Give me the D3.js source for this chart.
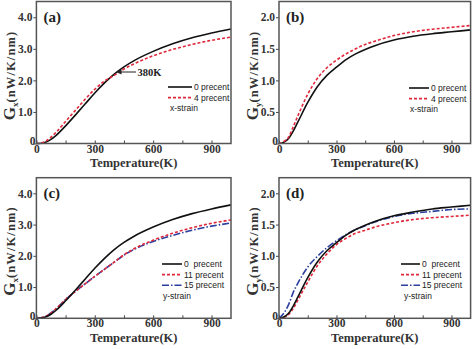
<!DOCTYPE html>
<html><head><meta charset="utf-8">
<script src="https://cdn.jsdelivr.net/npm/d3@7/dist/d3.min.js"></script>
<style>body{margin:0;background:#fff}svg{display:block}</style>
</head><body><svg id="c" width="474" height="349"></svg>
<script>
const temps = [0,25,50,75,100,150,200,250,300,350,400,450,500,600,700,800,900,1000];
// panel (a) Gx, x-strain
const a0 = [0,0.01,0.05,0.13,0.25,0.56,0.9,1.25,1.6,1.92,2.2,2.43,2.62,2.92,3.16,3.35,3.5,3.63];
const a4 = [0,0.02,0.08,0.2,0.35,0.7,1.05,1.4,1.72,1.98,2.16,2.36,2.52,2.78,2.98,3.14,3.27,3.37];
// panel (b) Gy, x-strain
const b0 = [0,0.02,0.08,0.2,0.35,0.65,0.9,1.08,1.21,1.33,1.42,1.49,1.55,1.64,1.7,1.74,1.77,1.8];
const b4 = [0,0.03,0.1,0.27,0.45,0.78,1.03,1.2,1.32,1.42,1.5,1.57,1.62,1.71,1.77,1.81,1.84,1.87];
// panel (c) Gx, y-strain
const c0 = a0;
const c11 = [0,0.02,0.07,0.17,0.3,0.6,0.86,1.1,1.34,1.57,1.8,2.03,2.22,2.5,2.72,2.9,3.04,3.15];
const c15 = [0,0.02,0.07,0.17,0.3,0.6,0.86,1.1,1.34,1.57,1.8,2.02,2.2,2.46,2.65,2.82,2.95,3.05];
// panel (d) Gy, y-strain
const d0 = [0,0.02,0.08,0.2,0.35,0.65,0.9,1.08,1.21,1.33,1.42,1.49,1.55,1.64,1.7,1.75,1.78,1.81];
const d11 = [0,0.015,0.06,0.16,0.3,0.58,0.84,1.03,1.18,1.28,1.36,1.41,1.46,1.53,1.58,1.61,1.63,1.65];
const d15 = [0,0.08,0.22,0.42,0.57,0.82,0.99,1.13,1.24,1.34,1.42,1.48,1.54,1.63,1.68,1.71,1.74,1.75];
const xTicks = [0,300,600,900];
const yTicksX = [0,1,2,3,4];
const yTicksY = [0,0.5,1,1.5,2];

const svg = d3.select("#c");
const styles = {
  solid:{stroke:"#111",dash:null},
  red:{stroke:"#e0283a",dash:"3,2"},
  blue:{stroke:"#2b3f9e",dash:"7,2,1.5,2"}
};
const panels = [
  {id:"(a)",x0:36.4,x1:231,y0:1.5,y1:143.5,ymax:4.5,yt:yTicksX,sub:"x",
   series:[[a0,"solid"],[a4,"red"]],legend:[["0 precent","solid"],["4 precent","red"]],strain:"x-strain",
   leg:{lx:168,ly:87,tx:194,sx:170}},
  {id:"(b)",x0:279,x1:470.6,y0:1.5,y1:143.5,ymax:2.25,yt:yTicksY,sub:"y",
   series:[[b0,"solid"],[b4,"red"]],legend:[["0 precent","solid"],["4 precent","red"]],strain:"x-strain",
   leg:{lx:409,ly:88,tx:431,sx:410}},
  {id:"(c)",x0:36.4,x1:231,y0:177.7,y1:318.3,ymax:4.5,yt:yTicksX,sub:"x",
   series:[[c15,"blue"],[c11,"red"],[c0,"solid"]],legend:[["0  precent","solid"],["11 precent","red"],["15 precent","blue"]],strain:"y-strain",
   leg:{lx:162,ly:264,tx:184,sx:163}},
  {id:"(d)",x0:279,x1:470.6,y0:177.7,y1:318.3,ymax:2.25,yt:yTicksY,sub:"y",
   series:[[d15,"blue"],[d11,"red"],[d0,"solid"]],legend:[["0  precent","solid"],["11 precent","red"],["15 precent","blue"]],strain:"y-strain",
   leg:{lx:401,ly:264,tx:422,sx:404}}
];
const serif = '"Liberation Serif","DejaVu Serif","Times New Roman",serif';
const sans = '"Liberation Sans",Arial,sans-serif';
const fmt = d=>d===0?"0":d.toFixed(1);

panels.forEach(p=>{
  const x = d3.scaleLinear().domain([0,1000]).range([p.x0,p.x1]);
  const y = d3.scaleLinear().domain([0,p.ymax]).range([p.y1,p.y0]);
  const g = svg.append("g");
  const xa = g.append("g").attr("transform",`translate(0,${p.y1})`)
    .call(d3.axisBottom(x).tickValues(xTicks).tickSize(-3).tickPadding(1).tickFormat(d3.format("d")));
  const xm = g.append("g").attr("transform",`translate(0,${p.y1})`)
    .call(d3.axisBottom(x).tickValues([150,450,750]).tickSize(-3).tickFormat(""));
  const ya = g.append("g").attr("transform",`translate(${p.x0},0)`)
    .call(d3.axisLeft(y).tickValues(p.yt).tickSize(3).tickPadding(1).tickFormat(fmt));
  [xa,xm,ya].forEach(a=>{
    a.attr("font-family",null).attr("font-size",null);
    a.select(".domain").remove();
    a.selectAll(".tick line").attr("stroke","#444").attr("stroke-width",1);
    a.selectAll("text").style("font-family",serif).style("font-weight","bold").style("font-size","11.5px").attr("fill","#333");
  });
  ya.selectAll(".tick").filter(d=>d===0).select("text").attr("dy","0.1em").attr("x",-1);
  const line = d3.line().x((d,i)=>x(temps[i])).y(d=>y(d)).curve(d3.curveMonotoneX);
  p.series.forEach(([vals,st])=>{
    g.append("path").datum(vals).attr("d",line).attr("fill","none")
      .attr("stroke",styles[st].stroke).attr("stroke-width",1.6)
      .attr("stroke-dasharray",styles[st].dash);
  });
  g.append("rect").attr("x",p.x0).attr("y",p.y0).attr("width",p.x1-p.x0).attr("height",p.y1-p.y0)
    .attr("fill","none").attr("stroke","#555").attr("stroke-width",1.5);
  g.append("text").attr("x",p.x0+7).attr("y",p.y0+20).text(p.id)
    .style("font-family",serif).style("font-weight","bold").style("font-size","15px").attr("fill","#222");
  g.append("text").attr("x",(p.x0+p.x1)/2).attr("y",p.y1+23.5).attr("text-anchor","middle")
    .style("font-family",serif).style("font-weight","bold").style("font-size","12.5px").attr("fill","#333")
    .text("Temperature(K)");
  const yt = g.append("text").attr("transform",`translate(${p.x0-21},${(p.y0+p.y1)/2+3}) rotate(-90)`)
    .attr("text-anchor","middle").style("font-family",serif).style("font-weight","bold").attr("fill","#333");
  yt.append("tspan").style("font-size","17px").text("G");
  yt.append("tspan").style("font-size","9px").attr("dy",3).text(p.sub);
  yt.append("tspan").style("font-size","12.5px").attr("dy",-3).attr("letter-spacing",1.1).text("(nW/K/nm)");
  p.legend.forEach(([lab,st],i)=>{
    const ly = p.leg.ly + i*10.6;
    g.append("line").attr("x1",p.leg.lx).attr("x2",p.leg.tx-2).attr("y1",ly).attr("y2",ly)
      .attr("stroke",styles[st].stroke).attr("stroke-width",1.6).attr("stroke-dasharray",styles[st].dash);
    g.append("text").attr("x",p.leg.tx).attr("y",ly+3).text(lab)
      .style("white-space","pre")
      .style("font-family",sans).style("font-size","8.5px").attr("fill","#222");
  });
  g.append("text").attr("x",p.leg.sx).attr("y",p.leg.ly + p.legend.length*10.6+3).text(p.strain)
    .style("font-family",sans).style("font-size","8.5px").attr("fill","#222");
  if(p.id==="(a)"){
    const ay = 72;
    svg.append("defs").append("marker").attr("id","ah").attr("viewBox","0 0 10 10").attr("refX",1).attr("refY",5)
      .attr("markerWidth",5).attr("markerHeight",5).attr("orient","auto-start-reverse")
      .append("path").attr("d","M0,0L10,5L0,10z").attr("fill","#222");
    g.append("line").attr("x1",136).attr("x2",121).attr("y1",ay).attr("y2",ay)
      .attr("stroke","#222").attr("stroke-width",1).attr("marker-end","url(#ah)");
    g.append("text").attr("x",137.5).attr("y",ay+4).text("380K")
      .style("font-family",serif).style("font-weight","bold").style("font-size","10.5px").attr("fill","#222");
  }
});
</script></body></html>
